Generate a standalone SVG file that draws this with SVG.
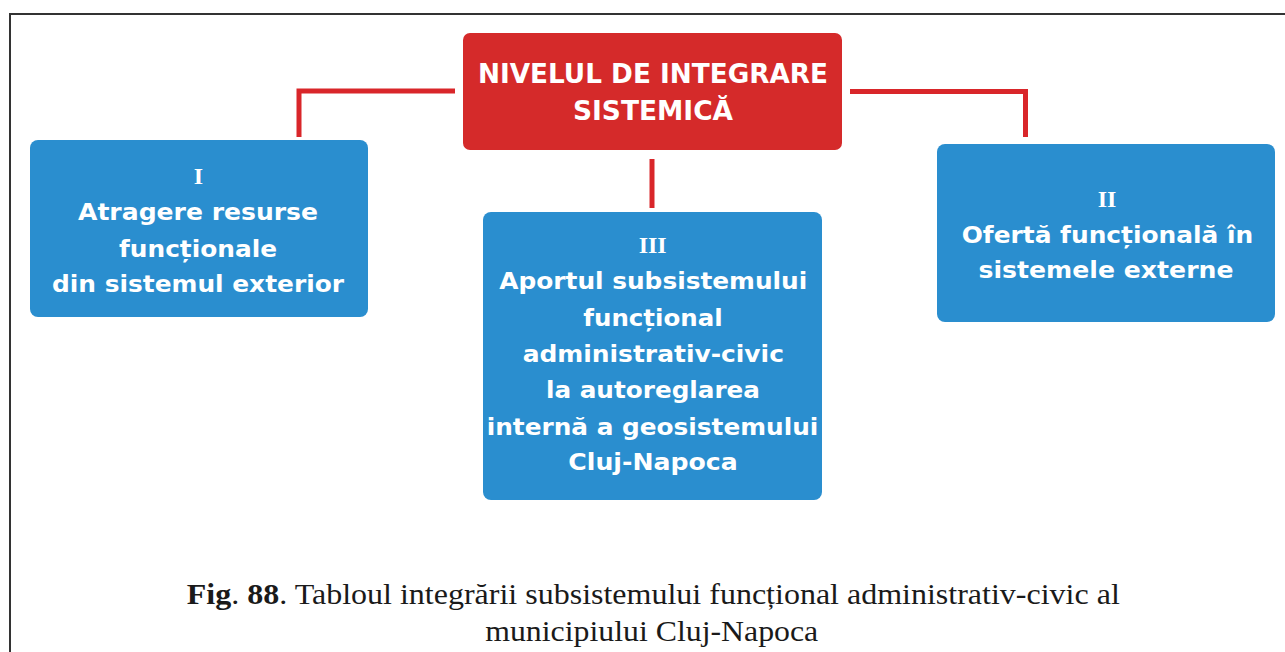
<svg xmlns="http://www.w3.org/2000/svg" width="1285" height="652" viewBox="0 0 1285 652">
<style>
.frame{fill:none;stroke:#333;stroke-width:2}
.red{fill:#d52a2a}
.blue{fill:#2a8ecf}
.conn{fill:none;stroke:#d9262a;stroke-width:5;stroke-linejoin:miter}
.t{font-family:"DejaVu Sans","Liberation Sans",sans-serif;font-weight:bold;fill:#fff;text-anchor:middle}
.h{font-size:26px}
.b{font-size:23px}
.num{font-family:"Liberation Serif","Times New Roman",serif;font-weight:bold;font-size:24px;fill:#fff;text-anchor:middle}
.cap{font-family:"Liberation Serif","Times New Roman",serif;font-size:29px;fill:#1a1a1a;text-anchor:middle}
</style>
<rect class="frame" x="10" y="14" width="1290" height="700"/>
<g id="connectors">
<path class="conn" d="M455,91 H299 V137"/>
<path class="conn" d="M850,91.5 H1025.5 V137"/>
<path class="conn" d="M652,159 V208"/>
</g>
<g id="node-root">
<rect class="red" x="463" y="33" width="379" height="117" rx="7"/>
<text class="t h" x="653" y="82.7" textLength="350" lengthAdjust="spacingAndGlyphs">NIVELUL DE INTEGRARE</text>
<text class="t h" x="653" y="120" textLength="160" lengthAdjust="spacingAndGlyphs">SISTEMICĂ</text>
</g>
<g id="node-I">
<rect class="blue" x="30" y="140" width="338" height="177" rx="8"/>
<text class="num" x="198.5" y="184">I</text>
<text class="t b" x="198" y="220" textLength="240" lengthAdjust="spacingAndGlyphs">Atragere resurse</text>
<text class="t b" x="198" y="256.7" textLength="158" lengthAdjust="spacingAndGlyphs">funcționale</text>
<text class="t b" x="198" y="292.3" textLength="292" lengthAdjust="spacingAndGlyphs">din sistemul exterior</text>
</g>
<g id="node-II">
<rect class="blue" x="937" y="144" width="338" height="178" rx="8"/>
<text class="num" x="1107" y="206.5">II</text>
<text class="t b" x="1107.5" y="242.7" textLength="291.6" lengthAdjust="spacingAndGlyphs">Ofertă funcțională în</text>
<text class="t b" x="1106" y="278.3" textLength="255" lengthAdjust="spacingAndGlyphs">sistemele externe</text>
</g>
<g id="node-III">
<rect class="blue" x="483" y="212" width="339" height="288" rx="8"/>
<text class="num" x="652.7" y="253.3">III</text>
<text class="t b" x="653.3" y="289.3" textLength="308" lengthAdjust="spacingAndGlyphs">Aportul subsistemului</text>
<text class="t b" x="653" y="326" textLength="139.3" lengthAdjust="spacingAndGlyphs">funcțional</text>
<text class="t b" x="653.3" y="361.7" textLength="261.3" lengthAdjust="spacingAndGlyphs">administrativ-civic</text>
<text class="t b" x="653" y="398.3" textLength="214" lengthAdjust="spacingAndGlyphs">la autoreglarea</text>
<text class="t b" x="652.5" y="435" textLength="331.7" lengthAdjust="spacingAndGlyphs">internă a geosistemului</text>
<text class="t b" x="653" y="470" textLength="169.3" lengthAdjust="spacingAndGlyphs">Cluj-Napoca</text>
</g>
<g id="caption">
<text class="cap" x="653.3" y="604" textLength="933" lengthAdjust="spacingAndGlyphs"><tspan font-weight="bold">Fig</tspan>. <tspan font-weight="bold">88</tspan>. Tabloul integrării subsistemului funcțional administrativ-civic al</text>
<text class="cap" x="651.7" y="641" textLength="333" lengthAdjust="spacingAndGlyphs">municipiului Cluj-Napoca</text>
</g>
</svg>
